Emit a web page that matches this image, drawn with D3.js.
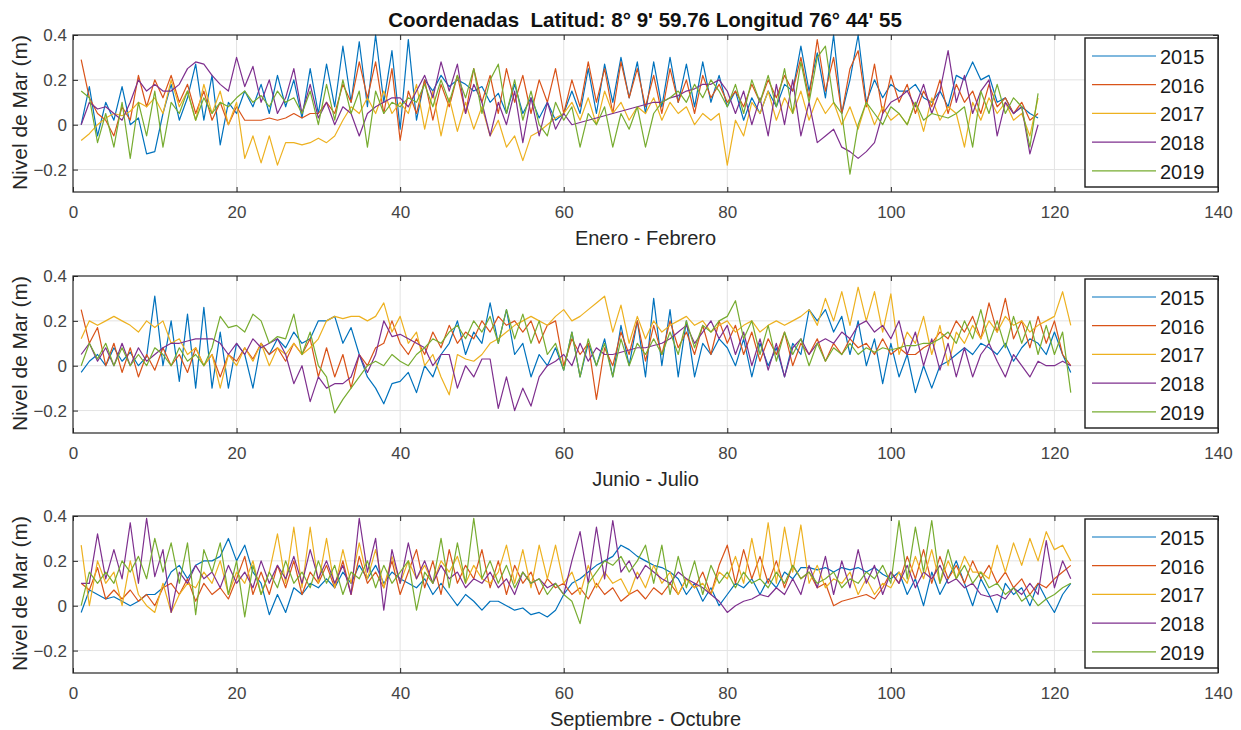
<!DOCTYPE html>
<html>
<head>
<meta charset="utf-8">
<script src="https://cdn.jsdelivr.net/npm/d3@7"></script>
<style>
  html, body { margin: 0; padding: 0; background: #fff; }
  svg { display: block; font-family: "Liberation Sans", Arial, Helvetica, sans-serif; }
  .pre { white-space: pre; }
</style>
</head>
<body>
<svg id="chart" width="1241" height="730"></svg>
<script>
// Series labels and colours (MATLAB default order)
const years = ["2015", "2016", "2017", "2018", "2019"];
const colors = ["#0072BD", "#D95319", "#EDB120", "#7E2F8E", "#77AC30"];

const titleText = "Coordenadas  Latitud: 8° 9' 59.76 Longitud 76° 44' 55";
const periodLabels = ["Enero - Febrero", "Junio - Julio", "Septiembre - Octubre"];
const yLabel = "Nivel de Mar (m)";
const xTicks = [0, 20, 40, 60, 80, 100, 120, 140];
const yTicks = [-0.2, 0, 0.2, 0.4];

// Daily sea level (m), January - February
const ene2015 = [0.00,0.17,-0.05,0.10,0.02,0.17,0.00,0.03,-0.13,-0.12,
  0.05,0.18,0.02,0.12,0.27,0.02,0.22,-0.09,0.10,0.05,
  0.15,0.08,0.18,0.05,0.22,0.08,0.20,0.03,0.25,0.05,
  0.27,0.08,0.35,0.10,0.37,0.08,0.40,0.10,0.33,-0.02,
  0.38,0.02,0.20,0.15,0.22,0.17,0.20,0.18,0.15,0.17,
  0.10,0.14,0.05,0.18,0.05,0.12,0.03,0.10,0.02,0.05,
  0.15,0.05,0.25,0.05,0.27,0.10,0.30,0.12,0.28,0.05,
  0.28,0.08,0.30,0.10,0.27,0.08,0.28,0.10,0.22,0.08,
  0.15,0.02,0.12,0.05,0.15,0.08,0.18,0.15,0.35,0.15,
  0.32,0.12,0.40,0.05,0.20,0.40,0.10,0.20,0.12,0.18,
  0.15,0.15,0.18,0.12,0.10,0.15,0.08,0.22,0.20,0.28,
  0.20,0.22,0.10,0.12,0.05,0.08,0.05,0.03];
const ene2016 = [0.29,0.12,0.05,0.02,-0.05,0.08,0.02,0.22,0.08,0.20,
  0.12,0.22,0.10,0.18,0.05,0.15,0.02,0.10,0.00,0.08,
  0.02,0.02,0.02,0.03,0.02,0.03,0.05,0.03,0.05,0.05,
  0.10,0.05,0.18,0.10,0.28,0.12,0.28,0.05,0.25,-0.07,
  0.15,0.05,0.20,0.02,0.18,0.08,0.22,0.05,0.25,0.10,
  0.22,0.05,0.25,0.10,0.22,0.05,0.20,0.10,0.25,0.05,
  0.20,0.08,0.28,0.10,0.25,0.05,0.28,0.12,0.25,0.08,
  0.22,0.05,0.25,0.10,0.20,0.05,0.22,0.12,0.18,0.10,
  0.15,0.08,0.18,0.10,0.20,0.12,0.22,0.15,0.30,0.12,
  0.38,0.15,0.30,0.05,0.25,0.33,0.08,0.27,0.05,0.22,
  0.10,0.18,0.05,0.15,0.08,0.20,0.05,0.18,0.10,0.15,
  0.05,0.18,0.08,0.12,0.05,0.10,0.02,0.05];
const ene2017 = [-0.07,-0.04,0.00,0.03,0.05,0.04,0.06,0.10,0.08,0.12,
  0.05,0.20,0.08,0.15,0.02,0.18,0.05,0.15,0.00,0.10,
  -0.15,-0.05,-0.17,-0.05,-0.18,-0.08,-0.08,-0.09,-0.08,-0.06,
  -0.08,-0.05,0.02,0.08,0.05,0.12,0.05,0.15,0.05,0.10,
  0.05,0.18,-0.02,0.15,-0.05,0.12,-0.03,0.10,-0.02,0.08,
  -0.05,0.02,-0.10,-0.05,-0.16,-0.05,-0.03,0.00,0.03,0.05,
  0.10,0.02,0.12,0.00,0.15,0.05,0.10,0.02,0.08,0.05,
  0.12,0.02,0.10,0.05,0.08,0.00,0.05,0.02,0.05,-0.18,
  0.02,-0.05,0.10,0.05,0.15,0.02,0.12,0.05,0.15,0.02,
  0.12,0.05,0.10,0.00,0.08,-0.02,0.10,0.00,0.08,0.02,
  0.05,0.00,0.10,-0.03,0.12,0.02,0.08,0.05,-0.10,0.10,
  0.02,0.12,0.05,0.10,0.02,0.05,-0.05,0.12];
const ene2018 = [0.00,0.10,0.07,0.08,0.05,0.02,0.10,0.20,0.15,0.18,
  0.15,0.15,0.18,0.25,0.28,0.27,0.22,0.18,0.15,0.30,
  0.17,0.26,0.10,0.20,0.05,0.12,0.25,0.05,0.18,0.03,
  0.10,0.00,0.08,0.05,-0.05,0.05,0.08,0.10,0.12,0.12,
  0.08,0.15,0.22,0.12,0.28,0.15,0.27,0.05,0.18,0.10,
  -0.05,0.10,0.00,0.15,-0.08,0.12,-0.05,0.10,-0.02,0.05,
  0.00,0.01,0.02,0.03,0.04,0.05,0.06,0.07,0.08,0.09,
  0.10,0.10,0.12,0.13,0.15,0.16,0.18,0.18,0.20,0.15,
  0.05,0.15,0.00,0.12,-0.05,0.18,0.00,0.20,-0.05,0.10,
  -0.08,-0.05,-0.02,-0.10,-0.12,-0.15,-0.12,-0.08,0.05,0.10,
  0.12,0.15,0.08,0.18,0.05,0.15,0.33,0.10,0.22,0.05,
  0.15,0.20,-0.05,0.10,0.05,0.08,-0.13,0.00];
const ene2019 = [0.15,0.12,-0.08,0.05,-0.10,0.10,-0.15,0.10,-0.05,0.15,
  -0.10,0.10,0.05,0.15,0.02,0.12,0.05,0.10,0.08,0.12,
  0.15,0.10,0.13,0.08,0.15,0.10,0.12,0.05,0.15,0.00,
  0.18,0.02,0.20,0.05,0.15,-0.10,0.15,0.05,0.10,0.08,
  0.12,0.10,0.18,0.08,0.20,0.10,0.22,0.12,0.25,0.05,
  0.20,0.27,0.05,0.20,0.02,0.15,0.00,-0.05,0.10,0.02,
  0.08,-0.10,0.05,0.00,0.08,-0.10,0.05,-0.02,0.08,-0.10,
  0.05,0.10,0.12,0.15,0.10,0.18,0.12,0.20,0.15,0.08,
  0.18,0.05,0.20,0.10,0.22,0.08,0.25,0.05,0.28,0.10,
  0.30,0.35,0.10,0.05,-0.22,0.00,0.10,0.05,0.00,0.08,
  0.05,0.00,0.10,0.02,0.05,0.04,0.03,0.05,0.08,-0.10,
  0.15,0.05,0.18,0.05,0.12,0.08,-0.10,0.14];

// Daily sea level (m), June - July
const jun2015 = [-0.03,0.02,0.05,0.00,0.08,0.02,0.06,0.00,0.04,0.31,
  0.00,0.20,-0.07,0.23,-0.10,0.26,-0.10,0.15,-0.10,0.10,
  0.05,-0.10,0.10,0.05,0.12,0.08,0.15,0.10,0.12,0.20,
  0.20,0.22,0.10,0.17,0.05,-0.05,-0.10,-0.17,-0.08,-0.07,
  -0.03,-0.12,0.00,-0.05,0.05,0.10,0.20,0.05,0.15,0.10,
  0.28,0.10,0.25,0.05,0.10,-0.05,0.05,0.00,0.08,-0.02,
  0.15,-0.05,0.10,0.00,0.12,-0.05,0.18,0.00,0.20,-0.05,
  0.30,0.00,0.25,-0.05,0.20,-0.05,0.10,0.05,0.12,0.08,
  0.00,0.12,-0.05,0.10,0.00,0.08,-0.05,0.10,0.05,0.25,
  0.20,0.25,0.15,0.22,0.05,0.20,0.00,0.12,-0.08,0.10,
  -0.05,0.05,-0.12,0.00,-0.10,0.00,0.02,0.05,0.08,0.05,
  0.10,0.08,0.05,0.10,0.02,0.08,0.12,0.10,0.05,0.15,
  0.05,-0.03];
const jun2016 = [0.25,0.10,0.17,0.00,0.10,-0.03,0.08,-0.05,0.05,-0.02,
  0.08,0.00,0.05,-0.03,0.08,0.00,0.05,-0.05,0.05,0.02,
  0.08,0.03,0.10,0.05,0.08,0.02,0.10,0.05,0.12,-0.05,
  0.08,-0.05,0.05,-0.10,0.05,0.00,0.08,0.10,0.20,0.10,
  0.05,0.12,0.05,0.15,0.08,0.18,0.10,0.15,0.12,0.20,
  0.15,0.22,0.18,0.20,0.15,0.20,0.10,0.18,0.20,0.00,
  0.12,0.05,0.10,-0.15,0.08,0.00,0.15,0.05,0.20,0.02,
  0.18,0.05,0.20,0.08,0.15,0.05,0.18,0.05,0.20,0.10,
  0.18,0.05,0.15,0.02,0.12,0.05,0.15,0.00,0.10,0.05,
  0.12,0.02,0.10,0.05,0.12,0.08,0.10,0.05,0.12,0.05,
  0.08,0.05,0.05,0.08,0.10,0.15,0.12,0.20,0.15,0.22,
  0.12,0.28,0.15,0.30,0.12,0.20,0.08,0.22,0.10,0.20,
  0.05,0.00];
const jun2017 = [0.12,0.20,0.18,0.20,0.22,0.20,0.18,0.15,0.20,0.17,
  0.20,0.10,0.12,0.05,0.08,0.00,0.05,-0.10,0.05,0.00,
  0.08,0.02,0.10,0.00,0.08,0.05,0.10,0.05,0.08,0.12,
  0.20,0.22,0.21,0.22,0.22,0.20,0.22,0.28,0.15,0.22,
  0.10,0.15,0.00,0.05,-0.05,-0.13,0.05,0.03,0.02,0.05,
  0.10,0.12,0.15,0.18,0.20,0.22,0.20,0.18,0.22,0.25,
  0.20,0.22,0.25,0.28,0.31,0.15,0.27,0.10,0.22,0.12,
  0.20,0.15,0.18,0.20,0.22,0.18,0.20,0.15,0.18,0.20,
  0.15,0.18,0.20,0.15,0.18,0.20,0.18,0.20,0.22,0.25,
  0.18,0.30,0.20,0.33,0.18,0.35,0.20,0.33,0.15,0.32,
  0.05,0.15,0.10,0.22,0.05,0.18,0.00,0.15,0.10,0.18,
  0.12,0.20,0.15,0.22,0.18,0.20,0.15,0.18,0.20,0.22,
  0.33,0.18];
const jun2018 = [0.05,0.10,0.02,0.08,0.00,0.10,0.00,0.08,0.02,0.05,
  0.08,0.10,0.10,0.11,0.12,0.12,0.12,0.10,0.05,0.10,
  0.05,0.12,0.08,0.10,0.12,0.05,-0.08,0.00,-0.16,-0.05,
  -0.10,-0.08,-0.08,-0.05,0.05,-0.03,0.05,0.20,0.13,0.14,
  0.12,0.10,0.08,0.00,0.05,0.05,-0.10,0.00,-0.05,0.03,
  0.03,-0.19,-0.05,-0.20,-0.10,-0.18,-0.05,0.00,0.02,0.05,
  0.00,0.10,0.02,0.08,0.05,0.05,0.06,0.07,0.08,0.08,
  0.09,0.10,0.12,0.15,0.18,0.10,0.15,0.20,0.12,0.18,
  0.05,0.15,0.00,0.12,-0.02,0.10,-0.05,0.08,0.12,0.05,
  0.10,0.12,0.10,0.15,0.12,0.18,0.20,0.15,0.18,0.12,
  0.20,0.05,0.15,0.00,0.12,-0.02,0.10,-0.05,0.08,-0.05,
  0.05,0.10,0.02,-0.05,0.05,0.00,-0.05,0.02,0.00,0.00,
  0.02,0.00];
const jun2019 = [0.00,0.10,0.03,0.10,0.00,0.08,0.00,0.05,0.00,0.08,
  0.05,0.00,0.08,0.02,0.05,0.00,0.08,0.22,0.17,0.18,
  0.15,0.23,0.20,0.10,0.13,0.12,0.23,0.05,0.15,0.00,
  -0.05,-0.21,-0.15,-0.10,-0.05,0.00,0.02,0.00,0.05,0.02,
  0.00,0.05,0.08,0.12,0.10,0.15,0.18,0.12,0.20,0.15,
  0.22,0.10,0.25,0.12,0.23,0.10,0.20,0.05,0.10,-0.02,
  0.15,-0.05,0.12,0.00,0.10,-0.05,0.12,0.00,0.10,0.05,
  0.12,0.05,0.15,0.05,0.20,0.08,0.18,0.15,0.20,0.22,
  0.29,0.12,0.20,0.05,0.18,0.02,0.15,0.05,0.12,0.00,
  0.10,0.02,0.08,0.05,0.10,0.05,0.08,0.06,0.08,0.07,
  0.08,0.09,0.09,0.10,0.10,0.12,0.15,0.10,0.20,0.12,
  0.25,0.10,0.20,0.08,0.22,0.10,0.20,0.05,0.18,0.05,
  0.15,-0.12];

// Daily sea level (m), September - October
const sep2015 = [-0.03,0.07,0.05,0.03,0.04,0.02,0.00,0.02,0.05,0.05,
  0.08,0.15,0.18,0.12,0.18,0.20,0.20,0.22,0.30,0.20,
  0.27,0.15,0.10,-0.04,0.05,-0.03,0.08,0.05,0.10,0.08,
  0.12,0.08,0.15,0.10,0.18,0.12,0.18,0.10,0.15,0.12,
  0.10,0.08,0.12,0.05,0.10,0.05,0.00,0.05,0.02,-0.02,
  0.02,0.02,0.00,-0.02,-0.01,-0.04,-0.03,-0.05,-0.02,0.05,
  0.10,0.12,0.15,0.18,0.20,0.22,0.27,0.25,0.22,0.20,
  0.18,0.17,0.15,0.12,0.05,0.10,0.02,0.08,0.00,0.05,
  0.10,0.08,0.12,0.05,0.12,0.08,0.15,0.12,0.17,0.17,
  0.16,0.17,0.15,0.17,0.16,0.17,0.15,0.17,0.14,0.12,
  0.15,0.05,0.12,0.00,0.15,0.05,0.12,0.20,0.10,0.00,
  0.12,0.05,-0.03,0.10,0.05,0.08,0.00,0.10,0.03,-0.03,
  0.05,0.10];
const sep2016 = [0.10,0.07,0.17,0.03,0.07,0.03,0.07,0.02,0.05,0.00,
  0.08,0.10,0.05,0.12,0.02,0.10,0.05,0.08,0.03,0.12,
  0.22,0.05,0.15,0.05,0.18,0.08,0.20,0.05,0.15,0.10,
  0.18,0.08,0.20,0.05,0.22,0.10,0.15,0.08,0.20,0.05,
  0.15,0.25,0.08,0.20,0.05,0.25,0.10,0.18,0.12,0.25,
  0.08,0.20,0.05,0.18,0.10,0.15,0.05,0.12,0.08,0.10,
  0.05,0.08,0.03,0.10,0.05,0.08,0.02,0.05,0.07,0.03,
  0.08,0.05,0.10,0.05,0.12,0.08,0.15,0.05,0.18,0.27,
  0.10,0.25,0.12,0.22,0.10,0.20,0.08,0.18,0.12,0.15,
  0.08,0.10,0.00,0.02,0.03,0.04,0.05,0.03,0.08,0.15,
  0.10,0.22,0.12,0.25,0.10,0.22,0.12,0.18,0.10,0.20,
  0.12,0.18,0.10,0.15,0.08,0.12,0.05,0.10,0.08,0.12,
  0.15,0.18];
const sep2017 = [0.27,0.00,0.20,0.10,0.15,0.00,0.20,0.05,0.00,-0.03,
  0.10,-0.03,0.05,0.10,0.08,0.15,0.10,0.20,0.05,0.15,
  0.10,0.20,0.05,0.15,0.32,0.10,0.35,0.08,0.35,0.10,
  0.30,0.08,0.25,0.10,0.28,0.12,0.25,0.08,0.22,0.10,
  0.20,0.12,0.18,0.10,0.20,0.15,0.22,0.10,0.18,0.12,
  0.10,0.15,0.27,0.10,0.25,0.08,0.27,0.12,0.27,0.10,
  0.15,0.05,0.18,0.08,0.15,0.10,0.12,0.05,0.15,0.08,
  0.18,0.10,0.15,0.05,0.12,0.08,0.10,0.05,0.15,0.12,
  0.22,0.10,0.30,0.12,0.37,0.10,0.35,0.15,0.36,0.10,
  0.18,0.08,0.12,0.10,0.15,0.05,0.12,0.05,0.10,0.08,
  0.15,0.10,0.22,0.12,0.25,0.10,0.20,0.12,0.22,0.15,
  0.15,0.12,0.27,0.15,0.28,0.18,0.30,0.20,0.33,0.25,
  0.27,0.20];
const sep2018 = [0.10,0.10,0.32,0.12,0.25,0.12,0.37,0.10,0.39,0.13,
  0.25,-0.03,0.15,0.10,0.18,0.12,0.15,0.08,0.18,0.10,
  0.15,0.08,0.20,0.10,0.18,0.12,0.22,0.10,0.25,0.12,
  0.20,0.10,0.18,0.05,0.39,0.15,0.30,-0.02,0.25,0.10,
  0.28,0.12,0.20,0.10,0.18,0.12,0.15,0.08,0.12,0.10,
  0.15,0.08,0.12,0.05,0.15,0.10,0.12,0.08,0.10,0.05,
  0.20,0.33,0.10,0.35,0.12,0.38,0.15,0.20,0.12,0.18,
  0.15,0.12,0.10,0.15,0.12,0.10,0.08,0.05,0.02,-0.03,
  0.00,0.02,0.03,0.05,0.04,0.08,0.05,0.12,0.05,0.18,
  0.08,0.22,0.05,0.20,0.08,0.25,0.10,0.18,0.05,0.15,
  0.10,0.18,0.08,0.15,0.12,0.18,0.10,0.12,0.08,0.10,
  0.05,0.04,0.05,0.03,0.08,0.05,0.10,0.05,0.29,0.08,
  0.20,0.12];
const sep2019 = [0.00,0.15,0.10,0.15,0.10,0.20,0.15,0.22,0.12,0.30,
  0.15,0.28,0.10,0.28,-0.04,0.25,0.15,0.28,0.05,0.20,
  -0.05,0.18,0.05,0.15,0.08,0.20,0.10,0.15,0.08,0.20,
  0.10,0.18,0.05,0.15,0.12,0.20,0.08,0.18,0.10,0.15,
  0.20,-0.02,0.15,0.10,0.30,0.08,0.28,0.10,0.39,0.12,
  0.20,0.10,0.18,0.08,0.15,0.10,0.12,0.05,0.10,0.05,
  0.02,-0.08,0.10,0.15,0.20,0.18,0.22,0.15,0.20,0.27,
  0.10,0.27,0.05,0.22,0.08,0.20,0.05,0.18,0.10,0.15,
  0.08,0.15,0.10,0.12,0.08,0.15,0.10,0.18,0.12,0.15,
  0.10,0.12,0.15,0.08,0.12,0.10,0.15,0.12,0.18,0.10,
  0.38,0.12,0.35,0.15,0.38,0.10,0.25,0.12,0.18,0.10,
  0.15,0.08,0.10,0.05,0.08,0.02,0.05,0.00,0.03,0.05,
  0.08,0.10];

const panels = [
  { label: periodLabels[0], series: [ene2015, ene2016, ene2017, ene2018, ene2019] },
  { label: periodLabels[1], series: [jun2015, jun2016, jun2017, jun2018, jun2019] },
  { label: periodLabels[2], series: [sep2015, sep2016, sep2017, sep2018, sep2019] }
];

const svg = d3.select("#chart");
const left = 73, right = 1218;
const tops = [35, 276, 516];
const plotH = 157;
const axisColor = "#262626";
const tickFont = 17;

svg.append("text")
  .attr("class", "pre")
  .attr("x", 645).attr("y", 27)
  .attr("text-anchor", "middle")
  .attr("font-size", 20.5).attr("font-weight", "bold")
  .attr("fill", "#111")
  .text(titleText);

panels.forEach((p, i) => {
  const top = tops[i], bottom = top + plotH;
  const x = d3.scaleLinear().domain([0, 140]).range([left, right]);
  const y = d3.scaleLinear().domain([-0.3, 0.4]).range([bottom, top]);
  const g = svg.append("g");

  // grid
  g.append("g").selectAll("line").data(xTicks.slice(1, -1)).join("line")
    .attr("x1", d => x(d)).attr("x2", d => x(d))
    .attr("y1", top).attr("y2", bottom)
    .attr("stroke", "#e3e3e3").attr("stroke-width", 1);
  g.append("g").selectAll("line").data(yTicks.filter(v => v < 0.4)).join("line")
    .attr("x1", left).attr("x2", right)
    .attr("y1", d => y(d)).attr("y2", d => y(d))
    .attr("stroke", "#e3e3e3").attr("stroke-width", 1);

  // series lines
  const line = d3.line().x((d, k) => x(k + 1)).y(d => y(d));
  p.series.forEach((s, k) => {
    g.append("path").datum(s)
      .attr("d", line)
      .attr("fill", "none")
      .attr("stroke", colors[k])
      .attr("stroke-width", 1.2)
      .attr("stroke-linejoin", "round");
  });

  // axes with inward ticks
  const fmt = d => (d === 0 ? "0" : d3.format(".1f")(d));
  const xb = g.append("g").attr("transform", `translate(0,${bottom})`)
    .call(d3.axisBottom(x).tickValues(xTicks).tickSizeInner(-5).tickSizeOuter(0).tickPadding(14).tickFormat(d3.format("d")));
  const xt = g.append("g").attr("transform", `translate(0,${top})`)
    .call(d3.axisTop(x).tickValues(xTicks).tickSizeInner(-5).tickSizeOuter(0).tickFormat(""));
  const yl = g.append("g").attr("transform", `translate(${left},0)`)
    .call(d3.axisLeft(y).tickValues(yTicks).tickSizeInner(-5).tickSizeOuter(0).tickPadding(6).tickFormat(fmt));
  const yr = g.append("g").attr("transform", `translate(${right},0)`)
    .call(d3.axisRight(y).tickValues(yTicks).tickSizeInner(-5).tickSizeOuter(0).tickFormat(""));
  [xb, xt, yl, yr].forEach(a => {
    a.select(".domain").remove();
    a.selectAll("line").attr("stroke", axisColor);
    a.selectAll("text").attr("fill", "#444").attr("font-size", tickFont)
      .attr("font-family", "Liberation Sans, Arial, sans-serif");
  });
  g.append("rect").attr("x", left).attr("y", top)
    .attr("width", right - left).attr("height", plotH)
    .attr("fill", "none").attr("stroke", axisColor).attr("stroke-width", 1.2);

  // axis labels
  g.append("text").attr("x", (left + right) / 2).attr("y", bottom + 53)
    .attr("text-anchor", "middle").attr("font-size", 20).attr("fill", "#262626")
    .text(p.label);
  g.append("text")
    .attr("transform", `translate(27,${(top + bottom) / 2 - 1}) rotate(-90)`)
    .attr("text-anchor", "middle").attr("font-size", 21).attr("fill", "#262626")
    .text(yLabel);

  // legend
  const lx = 1085, ly = top + 3, lw = right - lx, lh = 149;
  const lg = g.append("g");
  lg.append("rect").attr("x", lx).attr("y", ly).attr("width", lw).attr("height", lh)
    .attr("fill", "#fff").attr("stroke", "#1a1a1a").attr("stroke-width", 1.4);
  years.forEach((yr, k) => {
    const cy = top + 21 + k * 28.7;
    lg.append("line").attr("x1", 1092).attr("x2", 1156)
      .attr("y1", cy).attr("y2", cy)
      .attr("stroke", colors[k]).attr("stroke-width", 1.2);
    lg.append("text").attr("x", 1160).attr("y", cy + 8)
      .attr("font-size", 20).attr("fill", "#1a1a1a").text(yr);
  });
});
</script>
</body>
</html>
